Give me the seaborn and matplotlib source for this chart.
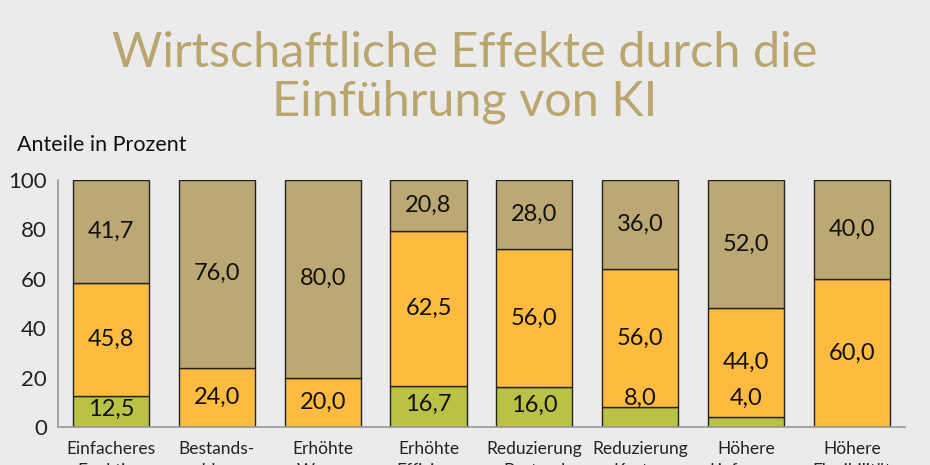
import matplotlib
matplotlib.use("Agg")
import matplotlib.pyplot as plt
import seaborn as sns
import pandas as pd
import numpy as np

categories = ["Einfacheres\nFunktion", "Bestands-\nabbau", "Erhöhte\nWaren",
              "Erhöhte\nEffizienz", "Reduzierung\nBestand", "Reduzierung\nKosten",
              "Höhere\nLieferung", "Höhere\nFlexibilität"]
green_vals = [12.5, 0, 0, 16.7, 16.0, 8.0, 4.0, 0]
orange_vals = [45.8, 24.0, 20.0, 62.5, 56.0, 56.0, 44.0, 60.0]
khaki_vals = [41.7, 76.0, 80.0, 20.8, 28.0, 36.0, 52.0, 40.0]
yticks = [0, 20, 40, 60, 80, 100]

sns.set_theme(style="white")
plt.rcParams['font.family'] = ['Lato', 'DejaVu Sans']

bg = "#EBEBEB"
c_green = "#B9C244"
c_orange = "#FDBB40"
c_khaki = "#BBA872"
title_c = "#B9A66E"

fig = plt.figure(figsize=(9.3, 4.65), dpi=100, facecolor=bg)
ax = fig.add_axes([0.0624, 0.0817, 0.9106, 0.5313])
ax.set_facecolor(bg)

df = pd.DataFrame({"cat": categories, "g": green_vals, "o": orange_vals, "k": khaki_vals})
g = np.array(green_vals)
o = np.array(orange_vals)
k = np.array(khaki_vals)

common = dict(x="cat", width=0.72, edgecolor="#222222", linewidth=1.0, ax=ax, saturation=1)
sns.barplot(data=df, y="g", color=c_green, **common)
sns.barplot(data=df, y="o", color=c_orange, bottom=g, **common)
sns.barplot(data=df, y="k", color=c_khaki, bottom=g + o, **common)

for i in range(len(categories)):
    base = 0
    for vals in (g, o, k):
        v = vals[i]
        if v > 0:
            yc = base + v / 2 if v >= 10 else 11.5
            if base == 0 and v >= 10 and vals is g:
                yc = base + v / 2 + 0.8
            ax.text(i, yc, f"{v:.1f}".replace(".", ","), ha="center", va="center",
                    fontsize=17, color="#111111")
        base += v

ax.set_xlim(-0.5, 7.5)
ax.set_ylim(0, 100)
ax.set_yticks(yticks)
ax.set_yticklabels([str(t) for t in yticks], fontsize=16, color="#222222")
ax.set_xlabel("")
ax.set_ylabel("")
ax.set_xticks(range(len(categories)))
ax.set_xticklabels(categories, fontsize=12.5, color="#222222", linespacing=1.5, va="top")
ax.tick_params(axis="both", length=0, pad=10)
ax.tick_params(axis="y", pad=8)
for s in ["top", "right"]:
    ax.spines[s].set_visible(False)
for s in ["left", "bottom"]:
    ax.spines[s].set_color("#999999")
    ax.spines[s].set_linewidth(1.2)

fig.text(0.5, 0.834, "Wirtschaftliche Effekte durch die\nEinführung von KI", ha="center", va="center",
         fontsize=35, color=title_c, linespacing=1.12)
fig.text(0.018, 0.688, "Anteile in Prozent", ha="left", va="center", fontsize=15.5, color="#111111")

fig.savefig("out.png", dpi=100, facecolor=bg)
